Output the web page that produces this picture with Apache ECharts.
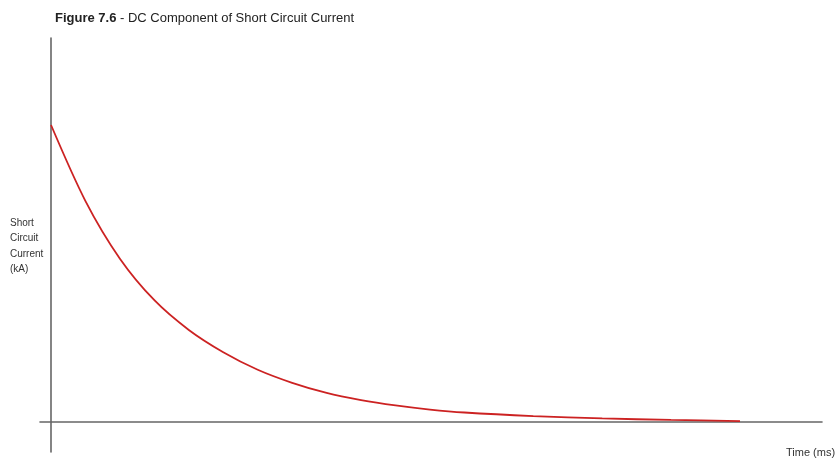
<!DOCTYPE html>
<html>
<head>
<meta charset="utf-8">
<script src="https://cdn.jsdelivr.net/npm/echarts@6/dist/echarts.min.js"></script>
<style>
  html, body { margin: 0; padding: 0; background: #fff; }
  #chart { width: 837px; height: 462px; }
</style>
</head>
<body>
<div id="chart"></div>
<script>
// Decaying DC offset of a short-circuit current
const timeMs = [0, 5, 10, 15, 20, 25, 30, 35, 40, 45, 50, 55, 60, 70, 80, 90, 100];
const currentKA = [100, 74.4, 55, 41, 31, 23.5, 17.6, 13.2, 9.8, 7.4, 5.6, 4.2, 3.2, 2.0, 1.2, 0.7, 0.3];

const font = '"Liberation Sans", Arial, sans-serif';
const chart = echarts.init(document.getElementById('chart'), null, { renderer: 'canvas' });

chart.setOption({
  animation: false,
  backgroundColor: '#ffffff',
  title: {
    text: '{b|Figure 7.6} - DC Component of Short Circuit Current',
    left: 50,
    top: 7,
    textStyle: {
      fontFamily: font,
      fontSize: 13,
      fontWeight: 'normal',
      color: '#222',
      rich: { b: { fontFamily: font, fontSize: 13, fontWeight: 'bold', color: '#222' } }
    }
  },
  grid: { left: 40, right: 15, top: 38, bottom: 10 },
  xAxis: {
    type: 'value',
    min: -1.6,
    max: 111.9,
    axisLine: { show: true, onZero: true, lineStyle: { color: '#666', width: 1.6 } },
    axisTick: { show: false },
    axisLabel: { show: false },
    splitLine: { show: false }
  },
  yAxis: {
    type: 'value',
    min: -10.1,
    max: 129.3,
    axisLine: { show: true, onZero: true, lineStyle: { color: '#666', width: 1.6 } },
    axisTick: { show: false },
    axisLabel: { show: false },
    splitLine: { show: false }
  },
  graphic: [
    {
      type: 'text',
      left: 10,
      top: 215,
      style: {
        text: 'Short\nCircuit\nCurrent\n(kA)',
        font: '10px ' + font,
        lineHeight: 15.5,
        fill: '#333'
      }
    },
    {
      type: 'text',
      left: 786,
      top: 447,
      style: {
        text: 'Time (ms)',
        font: '11px ' + font,
        fill: '#333'
      }
    }
  ],
  series: [{
    type: 'line',
    data: timeMs.map((t, i) => [t, currentKA[i]]),
    smooth: 0.3,
    showSymbol: false,
    lineStyle: { color: '#cc2222', width: 1.8 }
  }]
});
</script>
</body>
</html>
